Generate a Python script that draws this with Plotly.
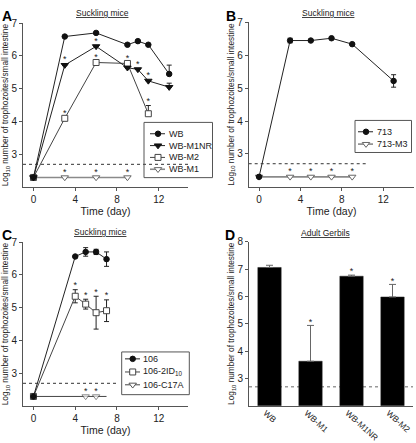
import plotly.graph_objects as go

W, H = 416, 443
FONT = "Liberation Sans, Arial, Helvetica, sans-serif"

# ------------------------------------------------------------------ data
DETECTION_LIMIT = 2.7
Y_TITLE = "Log<sub>10</sub> number of trophozoites/small intestine"

# Panel A - suckling mice, WB family
a_days_wb = [0, 3, 6, 9, 10, 11, 13]
a_wb = [2.3, 6.59, 6.70, 6.34, 6.45, 6.34, 5.45]
a_wb_err = [0, 0, 0, 0, 0, 0, 0.27]
a_wb_sig = []
a_days_m1nr = [0, 3, 6, 9, 10, 11, 13]
a_m1nr = [2.3, 5.72, 6.29, 5.64, 5.59, 5.24, 5.05]
a_m1nr_err = [0, 0, 0, 0, 0, 0, 0.12]
a_m1nr_sig = [3, 6, 10, 11]
a_days_m2 = [0, 3, 6, 9, 11]
a_m2 = [2.3, 4.10, 5.80, 5.77, 4.24]
a_m2_err = [0, 0, 0, 0, 0.25]
a_m2_sig = [3, 6, 9, 11]
a_days_m1 = [0, 3, 6, 9]
a_m1 = [2.3, 2.3, 2.3, 2.3]
a_m1_err = [0, 0, 0, 0]
a_m1_sig = [3, 6, 9]

# Panel B - suckling mice, 713 family
b_days_713 = [0, 3, 5, 7, 9, 13]
b_713 = [2.3, 6.45, 6.45, 6.52, 6.34, 5.22]
b_713_err = [0, 0.07, 0, 0, 0, 0.19]
b_days_m3 = [0, 3, 5, 7, 9]
b_m3 = [2.3, 2.3, 2.3, 2.3, 2.3]
b_m3_err = [0, 0, 0, 0, 0]
b_m3_sig = [3, 5, 7, 9]

# Panel C - suckling mice, 106 family
c_days_106 = [0, 4, 5, 6, 7]
c_106 = [2.3, 6.56, 6.70, 6.70, 6.48]
c_106_err = [0, 0, 0.13, 0.08, 0.22]
c_days_2id = [0, 4, 5, 6, 7]
c_2id = [2.3, 5.35, 5.11, 4.85, 4.91]
c_2id_err = [0, 0.20, 0.15, 0.50, 0.33]
c_2id_sig = [4, 5, 6, 7]
c_days_c17a = [0, 5, 6, 7]
c_c17a = [2.3, 2.3, 2.3, 2.3]
c_c17a_err = [0, 0, 0, 0]
c_c17a_sig = [5, 6]

# Panel D - adult gerbils
d_strains = ["WB", "WB-M1", "WB-M1NR", "WB-M2"]
d_values = [7.06, 3.63, 6.74, 5.98]
d_err = [0.08, 1.31, 0.04, 0.46]
d_sig = ["WB-M1", "WB-M1NR", "WB-M2"]

day_ticks = [0, 4, 8, 12]
log_ticks_abc = [3, 4, 5, 6, 7]
log_ticks_d = [3, 4, 5, 6, 7, 8]

# ------------------------------------------------------------------ helpers
def fx(p):
    return p / W


def fy(p):
    return 1 - p / H


def star_xy(xs, vals, errs, sig):
    ox, oy = [], []
    for x, v, e in zip(xs, vals, errs):
        if x in sig:
            ox.append(x)
            oy.append(v + (e + 0.11 if e else 0.15))
    return ox, oy


BLACK = "#222"
GRAY = "#8a8a8a"
AXC = "#555"

STYLE = {
    "WB": dict(symbol="circle", size=5.5, color="#111", mline="#111", line=BLACK, lw=1),
    "WB-M1NR": dict(symbol="triangle-down", size=6.5, color="#111", mline="#111", line=BLACK, lw=1),
    "WB-M2": dict(symbol="square", size=6, color="white", mline="#444", line="#444", lw=1),
    "WB-M1": dict(symbol="triangle-down", size=6.5, color="white", mline="#666", line=GRAY, lw=1.6),
    "713": dict(symbol="circle", size=5.5, color="#111", mline="#111", line=BLACK, lw=1),
    "713-M3": dict(symbol="triangle-down", size=6.5, color="white", mline="#666", line=GRAY, lw=1.6),
    "106": dict(symbol="circle", size=5.5, color="#111", mline="#111", line=BLACK, lw=1),
    "106-2ID10": dict(symbol="square", size=6, color="white", mline="#444", line="#444", lw=1),
    "106-C17A": dict(symbol="triangle-down", size=6.5, color="white", mline="#555", line="#444", lw=1),
}

fig = go.Figure()


def add_series(name, xs, ys, errs, sig, xa, ya, symmetric, marked=None):
    st = STYLE[name]
    sizes = st["size"]
    if marked is not None:
        sizes = [st["size"] if x in marked else 0 for x in xs]
    tr = go.Scatter(
        x=xs, y=ys, xaxis=xa, yaxis=ya, mode="lines+markers", name=name,
        line=dict(color=st["line"], width=st["lw"]),
        marker=dict(symbol=st["symbol"], size=sizes, color=st["color"],
                    line=dict(color=st["mline"], width=1)),
        showlegend=False, cliponaxis=False,
    )
    if any(errs):
        ed = dict(type="data", array=errs, color=BLACK, thickness=1, width=2.5, visible=True)
        if symmetric:
            ed["symmetric"] = True
        else:
            ed["symmetric"] = False
            ed["arrayminus"] = [0] * len(errs)
        tr.error_y = ed
    fig.add_trace(tr)
    if sig:
        sx, sy = star_xy(xs, ys, errs, sig)
        fig.add_trace(go.Scatter(
            x=sx, y=sy, xaxis=xa, yaxis=ya, mode="text", text=["*"] * len(sx),
            textposition="middle center", textfont=dict(size=9, color=BLACK, family=FONT),
            showlegend=False, cliponaxis=False, hoverinfo="skip"))


# Panel A
add_series("WB-M1", a_days_m1, a_m1, a_m1_err, a_m1_sig, "x", "y", False)
add_series("WB-M2", a_days_m2, a_m2, a_m2_err, a_m2_sig, "x", "y", False)
add_series("WB-M1NR", a_days_m1nr, a_m1nr, a_m1nr_err, a_m1nr_sig, "x", "y", False)
add_series("WB", a_days_wb, a_wb, a_wb_err, a_wb_sig, "x", "y", False)
# Panel B
add_series("713-M3", b_days_m3, b_m3, b_m3_err, b_m3_sig, "x2", "y2", True)
add_series("713", b_days_713, b_713, b_713_err, [], "x2", "y2", True)
# Panel C
add_series("106-C17A", c_days_c17a, c_c17a, c_c17a_err, c_c17a_sig, "x3", "y3", True, marked=c_c17a_sig)
add_series("106-2ID10", c_days_2id, c_2id, c_2id_err, c_2id_sig, "x3", "y3", True)
add_series("106", c_days_106, c_106, c_106_err, [], "x3", "y3", True)

# Panel D
fig.add_trace(go.Bar(
    x=d_strains, y=d_values, xaxis="x4", yaxis="y4", width=0.57,
    marker=dict(color="#000", line=dict(color="#222", width=0.5)),
    error_y=dict(type="data", array=d_err, arrayminus=[0] * len(d_err), symmetric=False,
                 color="#666", thickness=1, width=3.5),
    showlegend=False,
))
sd = [(s, v + e + 0.11) for s, v, e in zip(d_strains, d_values, d_err) if s in d_sig]
fig.add_trace(go.Scatter(
    x=[s for s, _ in sd], y=[v for _, v in sd], xaxis="x4", yaxis="y4", mode="text",
    text=["*"] * len(sd), textposition="middle center",
    textfont=dict(size=9, color=BLACK, family=FONT), showlegend=False, cliponaxis=False))

# ------------------------------------------------------------------ axes
def xax(p0, p1, rng, anchor, title=True, **kw):
    d = dict(domain=[fx(p0), fx(p1)], range=rng, anchor=anchor, showline=True, linecolor=AXC,
             linewidth=1, ticks="outside", ticklen=3, tickcolor=AXC, showgrid=False, zeroline=False,
             tickfont=dict(size=10, color=BLACK, family=FONT))
    if title:
        d["title"] = dict(text="Time (day)", font=dict(size=10.5, color=BLACK, family=FONT), standoff=0)
    d.update(kw)
    return d


def yax(top, bot, rng, anchor, ticks, **kw):
    d = dict(domain=[fy(bot), fy(top)], range=rng, anchor=anchor, showline=True, linecolor=AXC,
             linewidth=1, ticks="outside", ticklen=3, tickcolor=AXC, showgrid=False, zeroline=False,
             tickvals=ticks, tickfont=dict(size=10, color=BLACK, family=FONT),
             title=dict(text=Y_TITLE, font=dict(size=8.3, color=BLACK, family=FONT), standoff=1))
    d.update(kw)
    return d


layout = dict(
    width=W, height=H, margin=dict(l=0, r=0, t=0, b=0),
    paper_bgcolor="white", plot_bgcolor="rgba(0,0,0,0)", showlegend=False,
    font=dict(family=FONT, color=BLACK),
    xaxis=xax(23, 188, [-1, 14.8], "y", tickvals=day_ticks),
    yaxis=yax(17.3, 183.8, [2, 7], "x", log_ticks_abc),
    xaxis2=xax(248.7, 414.3, [-1, 15], "y2", tickvals=day_ticks),
    yaxis2=yax(16.7, 183.2, [2, 7], "x2", log_ticks_abc),
    xaxis3=xax(23, 188, [-1, 14.8], "y3", tickvals=day_ticks),
    yaxis3=yax(239.3, 405.8, [2, 7], "x3", log_ticks_abc),
    xaxis4=xax(249, 413, [-0.5, 3.5], "y4", title=False, type="category", ticks="",
               tickangle=42, ticklabelstandoff=-2, ticklabelshift=-4,
               tickfont=dict(size=8.5, color=BLACK, family=FONT)),
    yaxis4=yax(239, 405.3, [2, 8], "x4", log_ticks_d),
    xaxis5=dict(domain=[0, 1], range=[0, W], visible=False, anchor="y5", fixedrange=True),
    yaxis5=dict(domain=[0, 1], range=[H, 0], visible=False, anchor="x5", fixedrange=True),
)
fig.update_layout(**layout)

# detection-limit dotted lines
fig.add_shape(type="line", xref="x", yref="y", x0=-1, x1=14.8, y0=DETECTION_LIMIT, y1=DETECTION_LIMIT,
              line=dict(color="#333", width=1, dash="dot"))
fig.add_shape(type="line", xref="x2", yref="y2", x0=-1, x1=10.4, y0=DETECTION_LIMIT, y1=DETECTION_LIMIT,
              line=dict(color="#333", width=1, dash="dot"))
fig.add_shape(type="line", xref="x3", yref="y3", x0=-1, x1=8, y0=DETECTION_LIMIT, y1=DETECTION_LIMIT,
              line=dict(color="#333", width=1, dash="dot"))
fig.add_shape(type="line", xref="x4 domain", yref="y4", x0=0, x1=1, y0=DETECTION_LIMIT, y1=DETECTION_LIMIT,
              line=dict(color="#999", width=1.5, dash="dot"), layer="below")

# ------------------------------------------------------------------ hand-drawn legends
legends = [
    # (box x0, y0, x1, y1, line x0, marker x, line x1, text x, rows)
    (144, 118, 212.5, 174, 150, 158, 165, 167,
     [("WB", 129.5), ("WB-M1NR", 141.5), ("WB-M2", 153.5), ("WB-M1", 165.5)]),
    (355, 116, 411.5, 148.5, 358, 366, 373, 375, [("713", 127.5), ("713-M3", 140)]),
    (121.7, 350.7, 189.3, 394, 125, 132.7, 140, 141, [("106", 357.7), ("106-2ID<sub>10</sub>", 371),
                                                     ("106-C17A", 384)]),
]
LEG_KEYS = {"106-2ID<sub>10</sub>": "106-2ID10"}
for bx0, by0, bx1, by1, lx0, mx, lx1, tx, rows in legends:
    fig.add_shape(type="rect", xref="x5", yref="y5", x0=bx0, y0=by0, x1=bx1, y1=by1,
                  line=dict(color=AXC, width=1))
    for label, ry in rows:
        st = STYLE[LEG_KEYS.get(label, label)]
        fig.add_trace(go.Scatter(x=[lx0, lx1], y=[ry, ry], xaxis="x5", yaxis="y5", mode="lines",
                                 line=dict(color=st["line"], width=st["lw"]), showlegend=False,
                                 hoverinfo="skip"))
        fig.add_trace(go.Scatter(x=[mx], y=[ry], xaxis="x5", yaxis="y5", mode="markers",
                                 marker=dict(symbol=st["symbol"], size=st["size"], color=st["color"],
                                             line=dict(color=st["mline"], width=1)),
                                 showlegend=False, hoverinfo="skip"))
        fig.add_annotation(x=tx, y=ry, xref="x5", yref="y5", text=label, showarrow=False,
                           xanchor="left", yanchor="middle", font=dict(size=9, color=BLACK, family=FONT))

# ------------------------------------------------------------------ titles & panel letters
for text, cx, cy in [("Suckling mice", 102, 7), ("Suckling mice", 328, 7),
                     ("Suckling mice", 100, 229), ("Adult Gerbils", 325, 230)]:
    fig.add_annotation(x=fx(cx), y=fy(cy), xref="paper", yref="paper", text="<u>%s</u>" % text,
                       showarrow=False, xanchor="center", yanchor="middle",
                       font=dict(size=8.5, color=BLACK, family=FONT))
for letter, lx, ly in [("A", 0, 0), ("B", 224, 0), ("C", 0, 222), ("D", 223, 222)]:
    fig.add_annotation(x=fx(lx), y=fy(ly), xref="paper", yref="paper", text="<b>%s</b>" % letter,
                       showarrow=False, xanchor="left", yanchor="top",
                       font=dict(size=14, color="#000", family=FONT))

fig.write_html("out.html", config={"displayModeBar": False},
               post_script="document.body.style.margin='0';")
